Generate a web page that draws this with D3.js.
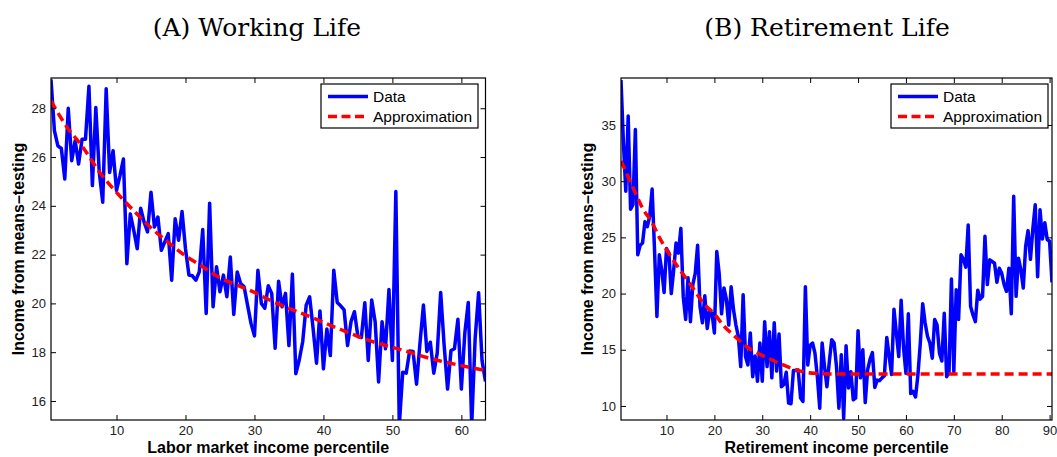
<!DOCTYPE html>
<html>
<head>
<meta charset="utf-8">
<script src="https://cdn.jsdelivr.net/npm/d3@7"></script>
<style>
  body { margin: 0; background: #fff; }
  svg { display: block; }
</style>
</head>
<body>
<div id="chart"></div>
<script>
// ---- data ----
// (A) working life: one value every 0.5 percentile, 0.5 .. 63.5
var workStart = 0.5, workStep = 0.5;
var workData = [29.18, 27.07, 26.46, 26.35, 25.1, 28.0, 25.85, 26.67, 25.71, 26.73,
  26.73, 28.9, 24.83, 28.03, 25.37, 24.15, 28.8, 25.37, 26.26, 24.63,
  25.24, 25.92, 21.63, 23.67, 22.99, 22.24, 23.9, 23.33, 22.93, 24.56,
  23.13, 23.54, 22.18, 22.52, 22.86, 20.95, 23.47, 22.59, 23.77, 22.24,
  21.16, 21.13, 20.95, 21.29, 23.03, 19.59, 24.11, 19.86, 21.5, 20.48,
  21.16, 20.27, 21.9, 19.55, 21.29, 20.82, 20.68, 19.93, 19.18, 18.67,
  21.36, 20.0, 19.8, 20.72, 20.41, 18.16, 20.91, 19.86, 20.41, 18.27,
  21.2, 17.12, 17.69, 18.44, 19.93, 20.27, 18.98, 17.55, 19.69, 17.32,
  18.95, 17.86, 21.36, 20.04, 19.9, 19.73, 18.27, 19.25, 19.66, 18.64,
  18.6, 20.03, 17.66, 20.14, 19.25, 16.78, 19.25, 18.14, 20.57, 17.66,
  24.59, 15.0, 17.18, 17.14, 18.05, 18.03, 16.69, 18.37, 19.93, 18.03,
  18.41, 17.14, 17.96, 20.45, 18.3, 16.49, 18.07, 18.14, 19.35, 16.49,
  18.78, 20.04, 15.0, 18.57, 20.44, 17.65, 16.8];
var workApprox = [[0.5, 28.3], [3, 27.15], [5, 26.45], [7.5, 25.4], [10, 24.55], [12.5, 23.8],
  [15, 23.1], [17.5, 22.5], [20, 21.95], [22.5, 21.5], [25, 21.05], [27.5, 20.75],
  [30, 20.45], [32.5, 20.1], [35, 19.8], [37.5, 19.52], [40, 19.22], [42.5, 18.93],
  [45, 18.65], [47.5, 18.4], [50, 18.2], [52.5, 18.0], [55, 17.78], [57.5, 17.6],
  [60, 17.45], [63.5, 17.25]];
var workXTicks = [10, 20, 30, 40, 50, 60];
var workYTicks = [16, 18, 20, 22, 24, 26, 28];

// (B) retirement life: 0.5 .. 90.5
var retStart = 0.5, retStep = 0.5;
var retData = [39.0, 33.5, 29.1, 35.8, 27.5, 27.9, 34.6, 23.45, 24.3, 24.5,
  26.4, 25.95, 26.9, 29.3, 23.9, 17.96, 23.45, 22.1, 20.1, 24.0,
  23.6, 20.0, 22.1, 24.5, 23.6, 25.8, 19.7, 17.7, 21.4, 17.5,
  20.8, 21.8, 24.3, 18.85, 17.4, 19.8, 16.9, 18.4, 18.25, 16.5,
  23.75, 21.8, 18.2, 20.5, 19.5, 17.2, 20.6, 18.55, 17.2, 16.2,
  13.5, 19.9, 14.4, 13.65, 16.5, 12.6, 14.45, 12.2, 15.6, 12.2,
  17.5, 13.5, 16.6, 12.5, 17.4, 13.1, 16.4, 11.7, 11.9, 13.0,
  10.25, 10.2, 13.15, 13.15, 13.2, 10.7, 10.4, 20.6, 13.65, 15.4,
  15.6, 14.7, 12.6, 9.8, 15.6, 13.5, 11.7, 13.95, 15.9, 15.6,
  13.5, 9.8, 14.55, 8.9, 15.35, 11.6, 13.05, 10.55, 10.7, 16.7,
  12.5, 15.0, 10.3, 13.2, 14.15, 14.75, 11.65, 12.3, 12.25, 12.5,
  12.7, 16.1, 14.4, 12.8, 18.6, 16.5, 14.4, 19.4, 15.2, 12.9,
  18.2, 11.1, 11.3, 10.8, 12.75, 15.6, 19.1, 17.4, 16.2, 15.6,
  14.25, 17.7, 17.2, 14.7, 14.0, 18.25, 12.6, 13.0, 21.3, 13.05,
  20.35, 17.7, 23.45, 23.05, 22.35, 26.1, 18.85, 18.1, 17.5, 20.3,
  19.5, 19.75, 25.1, 20.8, 23.0, 22.85, 22.7, 21.0, 22.25, 21.8,
  20.8, 20.2, 22.25, 18.2, 28.65, 19.75, 23.15, 22.1, 20.5, 24.2,
  25.6, 23.05, 25.75, 27.9, 21.5, 27.45, 24.85, 26.3, 24.8, 24.65,
  21.0];
var retApprox = [[0.5, 31.8], [2, 30.4], [3.5, 28.95], [5, 27.6], [7, 26.3], [8.5, 25.0],
  [10, 23.9], [12, 22.6], [14, 21.4], [15.5, 20.5], [18, 19.0], [20, 18.2],
  [22, 17.1], [24, 16.3], [27, 15.2], [29.5, 14.6], [32.5, 14.0], [35.5, 13.45],
  [38, 13.1], [41, 12.9], [44, 12.85], [90.5, 12.85]];
var retXTicks = [10, 20, 30, 40, 50, 60, 70, 80, 90];
var retYTicks = [10, 15, 20, 25, 30, 35];

var width = 1057, height = 457;

var svg = d3.select("#chart")
  .append("svg")
  .attr("width", width)
  .attr("height", height);

function drawPanel(p) {
  var x = d3.scaleLinear().domain(p.xDomain).range([p.left, p.right]);
  var y = d3.scaleLinear().domain(p.yDomain).range([p.bottom, p.top]);

  var g = svg.append("g");

  // clip for the lines
  g.append("clipPath").attr("id", p.id + "-clip")
    .append("rect")
    .attr("x", p.left).attr("y", p.top)
    .attr("width", p.right - p.left).attr("height", p.bottom - p.top);

  var pts = p.values.map(function(v, i) { return [p.start + i * p.step, v]; });
  var line = d3.line().x(function(d) { return x(d[0]); }).y(function(d) { return y(d[1]); });

  var plot = g.append("g").attr("clip-path", "url(#" + p.id + "-clip)");
  plot.append("path")
    .datum(pts)
    .attr("d", line)
    .attr("fill", "none")
    .attr("stroke", "#0000ff")
    .attr("stroke-width", 3.5)
    .attr("stroke-linejoin", "round");
  plot.append("path")
    .datum(p.approx)
    .attr("d", line.curve(d3.curveMonotoneX))
    .attr("fill", "none")
    .attr("stroke", "#ff0000")
    .attr("stroke-width", 3.5)
    .attr("stroke-dasharray", "9,5");

  // axes, matlab style: ticks inward on all four sides
  var tickFont = function(sel) {
    sel.select(".domain").remove();
    sel.selectAll("line").attr("stroke", "#000");
    sel.selectAll("text")
      .attr("fill", "#222")
      .style("font-family", "'Liberation Sans', Arial, sans-serif")
      .style("font-size", "13px");
  };
  g.append("g").attr("transform", "translate(0," + p.bottom + ")")
    .call(d3.axisBottom(x).tickValues(p.xTicks).tickSizeInner(-5).tickSizeOuter(0).tickPadding(6))
    .call(tickFont);
  g.append("g").attr("transform", "translate(0," + p.top + ")")
    .call(d3.axisTop(x).tickValues(p.xTicks).tickSizeInner(-5).tickSizeOuter(0).tickFormat(""))
    .call(tickFont);
  g.append("g").attr("transform", "translate(" + p.left + ",0)")
    .call(d3.axisLeft(y).tickValues(p.yTicks).tickSizeInner(-5).tickSizeOuter(0).tickPadding(5))
    .call(tickFont);
  g.append("g").attr("transform", "translate(" + p.right + ",0)")
    .call(d3.axisRight(y).tickValues(p.yTicks).tickSizeInner(-5).tickSizeOuter(0).tickFormat(""))
    .call(tickFont);

  g.append("rect")
    .attr("x", p.left).attr("y", p.top)
    .attr("width", p.right - p.left).attr("height", p.bottom - p.top)
    .attr("fill", "none").attr("stroke", "#000").attr("stroke-width", 1.2);

  // titles
  svg.append("text")
    .attr("x", p.titleX).attr("y", 36)
    .attr("text-anchor", "middle")
    .style("font-family", "'DejaVu Serif', serif")
    .style("font-size", "25px")
    .text(p.title);

  svg.append("text")
    .attr("x", (p.left + p.right) / 2).attr("y", 453)
    .attr("text-anchor", "middle")
    .style("font-family", "'Liberation Sans', Arial, sans-serif")
    .style("font-weight", "bold")
    .style("font-size", "16px")
    .text(p.xLabel);

  svg.append("text")
    .attr("transform", "translate(" + p.yLabelX + "," + (p.top + p.bottom) / 2 + ") rotate(-90)")
    .attr("text-anchor", "middle")
    .style("font-family", "'Liberation Sans', Arial, sans-serif")
    .style("font-weight", "bold")
    .style("font-size", "16px")
    .text("Income from means\u2013testing");

  // legend
  var lg = svg.append("g").attr("transform", "translate(" + p.legendX + ",84)");
  lg.append("rect").attr("width", 157).attr("height", 44)
    .attr("fill", "#fff").attr("stroke", "#000").attr("stroke-width", 1.2);
  lg.append("line").attr("x1", 7).attr("x2", 47).attr("y1", 12.5).attr("y2", 12.5)
    .attr("stroke", "#0000ff").attr("stroke-width", 3.5);
  lg.append("line").attr("x1", 7).attr("x2", 47).attr("y1", 32.5).attr("y2", 32.5)
    .attr("stroke", "#ff0000").attr("stroke-width", 3.5).attr("stroke-dasharray", "9,4.5");
  lg.selectAll("text.lab")
    .data(["Data", "Approximation"])
    .enter().append("text")
    .attr("x", 52)
    .attr("y", function(d, i) { return 18 + i * 20; })
    .style("font-family", "'Liberation Sans', Arial, sans-serif")
    .style("font-size", "15.5px")
    .text(function(d) { return d; });
}

drawPanel({
  id: "work", title: "(A) Working Life", titleX: 257,
  xLabel: "Labor market income percentile", yLabelX: 24,
  left: 51, right: 485.5, top: 78, bottom: 420,
  xDomain: [0.5, 63.5], yDomain: [15.22, 29.24],
  start: workStart, step: workStep, values: workData, approx: workApprox,
  xTicks: workXTicks, yTicks: workYTicks, legendX: 321
});

drawPanel({
  id: "ret", title: "(B) Retirement Life", titleX: 827,
  xLabel: "Retirement income percentile", yLabelX: 593,
  left: 621, right: 1052, top: 78, bottom: 420,
  xDomain: [0.5, 90.5], yDomain: [8.75, 39.18],
  start: retStart, step: retStep, values: retData, approx: retApprox,
  xTicks: retXTicks, yTicks: retYTicks, legendX: 891
});
</script>
</body>
</html>
